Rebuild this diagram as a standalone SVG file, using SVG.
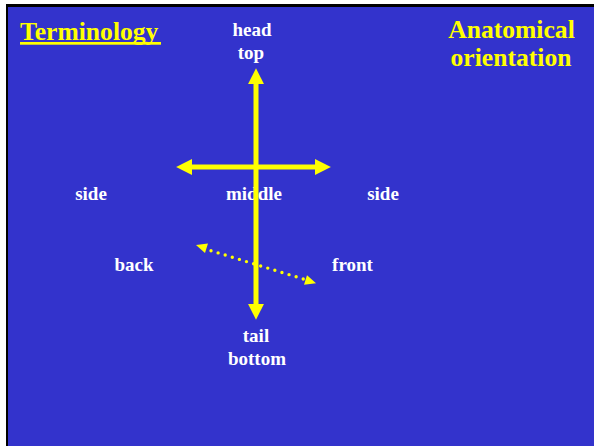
<svg xmlns="http://www.w3.org/2000/svg" width="594" height="446" viewBox="0 0 594 446">
  <style>
    .title { font-family: "Liberation Serif", "Times New Roman", serif; font-weight: bold; font-size: 25.6px; fill: #FFFF00; }
    .lbl { font-family: "Liberation Serif", "Times New Roman", serif; font-weight: bold; font-size: 19px; fill: #FFFFFF; text-anchor: middle; }
    .axis { stroke: #FFFF00; stroke-width: 5; fill: none; }
    .dots { stroke: #FFFF00; stroke-width: 3.4; stroke-linecap: round; stroke-dasharray: 0 7.42; fill: none; }
    .head { fill: #FFFF00; }
  </style>
  <defs>
    <marker id="arr" markerUnits="userSpaceOnUse" markerWidth="16" markerHeight="16" viewBox="0 0 15 15" refX="2" refY="7.5" orient="auto-start-reverse">
      <path d="M0,0 L15,7.5 L0,15 z" fill="#FFFF00"/>
    </marker>
  </defs>
  <rect x="0" y="0" width="594" height="446" fill="#FFFFFF"/>
  <rect x="6" y="4" width="600" height="460" fill="#000000"/>
  <rect x="8" y="7" width="600" height="460" fill="#3333CC"/>

  <g id="title-terminology">
    <text class="title" x="20" y="39.5">Terminology</text>
    <rect x="20" y="42" width="141" height="2.7" fill="#FFFF00"/>
  </g>
  <g id="title-anatomical">
    <text class="title" x="511.5" y="37.5" text-anchor="middle" font-size="26">Anatomical</text>
    <text class="title" x="511" y="66" text-anchor="middle" font-size="26">orientation</text>
  </g>

  <g id="node-head"><text class="lbl" x="252" y="36">head</text><text class="lbl" x="251" y="59">top</text></g>
  <g id="node-side-left"><text class="lbl" x="91" y="200">side</text></g>
  <g id="node-middle"><text class="lbl" x="254" y="200">middle</text></g>
  <g id="node-side-right"><text class="lbl" x="383" y="200">side</text></g>
  <g id="node-back"><text class="lbl" x="134" y="271">back</text></g>
  <g id="node-front"><text class="lbl" x="352.5" y="271">front</text></g>
  <g id="node-tail"><text class="lbl" x="256" y="342">tail</text><text class="lbl" x="257" y="365">bottom</text></g>

  <g id="connectors">
    <line class="axis" x1="256" y1="82" x2="256" y2="306" marker-start="url(#arr)" marker-end="url(#arr)"/>
    <line class="axis" x1="190" y1="167" x2="317" y2="167" stroke-width="4.5" marker-start="url(#arr)" marker-end="url(#arr)"/>
    <line class="dots" x1="211" y1="250.7" x2="303.3" y2="279"/>
    <polygon class="head" points="196,245 205,253.1 208,243.5"/>
    <polygon class="head" points="316,283.3 304,284.8 307,275.2"/>
  </g>
</svg>
